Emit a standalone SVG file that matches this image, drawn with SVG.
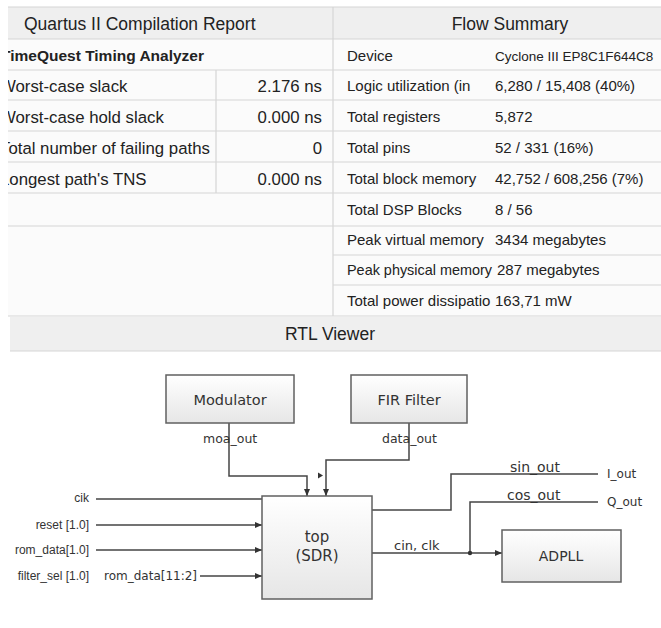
<svg xmlns="http://www.w3.org/2000/svg" width="661" height="628" viewBox="0 0 661 628">
<style>
.bg{fill:#fbfbfb}
.hdr{fill:#efefef}
.grid{stroke:#d6d6d6;stroke-width:1.2;fill:none}
.t{font-family:"Liberation Sans",Arial,sans-serif;font-size:15px;fill:#222}
.tl{font-family:"Liberation Sans",Arial,sans-serif;font-size:16.8px;fill:#222}
.th{font-family:"Liberation Sans",Arial,sans-serif;font-size:17.5px;fill:#222}
.tb{font-family:"Liberation Sans",Arial,sans-serif;font-size:15.5px;font-weight:bold;fill:#222}
.box{fill:url(#g);stroke:#606060;stroke-width:1.5}
.w{stroke:#454545;stroke-width:1.5;fill:none}
.wa{stroke:#454545;stroke-width:1.5;fill:none;marker-end:url(#ah)}
.lbl{font-family:"DejaVu Sans",Verdana,sans-serif;fill:#333}
.inl{font-family:"Liberation Sans",Arial,sans-serif;font-size:12px;fill:#333}
</style>
<defs>
<linearGradient id="g" x1="0" y1="0" x2="0" y2="1">
<stop offset="0" stop-color="#ffffff"/>
<stop offset="1" stop-color="#e6e6e6"/>
</linearGradient>
<marker id="ah" markerWidth="8" markerHeight="6" refX="7" refY="3" orient="auto" markerUnits="userSpaceOnUse">
<path d="M0,0 L7,3 L0,6 Z" fill="#333"/>
</marker>
<clipPath id="lc"><rect x="8" y="0" width="325" height="320"/></clipPath>
<clipPath id="rc"><rect x="333" y="0" width="328" height="320"/></clipPath>
</defs>
<rect x="0" y="0" width="661" height="628" fill="#ffffff"/>
<g id="report-table">
<rect class="bg" x="8" y="7" width="653" height="309"/>
<rect class="hdr" x="8" y="7" width="653" height="32"/>
<g class="grid">
<line x1="8" y1="7" x2="661" y2="7"/>
<line x1="8" y1="39" x2="661" y2="39"/>
<line x1="8" y1="70" x2="661" y2="70"/>
<line x1="8" y1="100" x2="661" y2="100"/>
<line x1="8" y1="131" x2="661" y2="131"/>
<line x1="8" y1="162" x2="661" y2="162"/>
<line x1="8" y1="193" x2="661" y2="193"/>
<line x1="8" y1="226" x2="661" y2="226"/>
<line x1="333" y1="255" x2="661" y2="255"/>
<line x1="333" y1="285" x2="661" y2="285"/>
<line x1="8" y1="316" x2="661" y2="316"/>
<line x1="216" y1="70" x2="216" y2="193"/>
<line x1="333" y1="7" x2="333" y2="316"/>
</g>
<g clip-path="url(#lc)">
<text class="th" x="24" y="30">Quartus II Compilation Report</text>
<text class="tb" x="1" y="61">TimeQuest Timing Analyzer</text>
<text class="tl" x="0" y="92">Worst-case slack</text>
<text class="tl" x="0" y="123">Worst-case hold slack</text>
<text class="tl" x="0" y="154">Total number of failing paths</text>
<text class="tl" x="0" y="185">Longest path's TNS</text>
<g text-anchor="end">
<text class="tl" x="322" y="92">2.176 ns</text>
<text class="tl" x="322" y="123">0.000 ns</text>
<text class="tl" x="322" y="154">0</text>
<text class="tl" x="322" y="185">0.000 ns</text>
</g>
</g>
<g clip-path="url(#rc)">
<text class="th" x="510" y="30" text-anchor="middle">Flow Summary</text>
<text class="t" x="347" y="61">Device</text>
<text class="t" x="495" y="61" style="font-size:13.5px">Cyclone III EP8C1F644C8</text>
<text class="t" x="347" y="91">Logic utilization (in</text>
<text class="t" x="495" y="91">6,280 / 15,408 (40%)</text>
<text class="t" x="347" y="122">Total registers</text>
<text class="t" x="495" y="122">5,872</text>
<text class="t" x="347" y="153">Total pins</text>
<text class="t" x="495" y="153">52 / 331 (16%)</text>
<text class="t" x="347" y="184">Total block memory</text>
<text class="t" x="495" y="184">42,752 / 608,256 (7%)</text>
<text class="t" x="347" y="215">Total DSP Blocks</text>
<text class="t" x="495" y="215">8 / 56</text>
<text class="t" x="347" y="245">Peak virtual memory</text>
<text class="t" x="495" y="245">3434 megabytes</text>
<text class="t" x="347" y="275" textLength="145" lengthAdjust="spacingAndGlyphs">Peak physical memory</text>
<text class="t" x="497" y="275">287 megabytes</text>
<text class="t" x="347" y="306">Total power dissipatio</text>
<text class="t" x="495" y="306">163,71 mW</text>
</g>
</g>
<g id="rtl-header">
<rect class="hdr" x="10" y="317" width="651" height="34"/>
<line class="grid" x1="10" y1="351" x2="661" y2="351"/>
<text class="th" x="330" y="340" text-anchor="middle">RTL Viewer</text>
</g>
<g id="connectors">
<polyline class="wa" points="229,423 229,476 307,476 307,496"/>
<polyline class="wa" points="409,423 409,460 326,460 326,496"/>
<path d="M318,472.5 L323,475.5 L318,478.5 Z" fill="#333"/>
<line class="w" x1="96" y1="499" x2="262" y2="499"/>
<line class="wa" x1="96" y1="525" x2="262" y2="525"/>
<line class="wa" x1="96" y1="550" x2="262" y2="550"/>
<line class="wa" x1="200" y1="576" x2="262" y2="576"/>
<polyline class="w" points="372,510 451,510 451,474 598,474"/>
<line class="wa" x1="372" y1="553" x2="502" y2="553"/>
<polyline class="w" points="470,553 470,502 598,502"/>
<circle cx="470" cy="553" r="2.2" fill="#333"/>
<text class="lbl" x="203" y="443" font-size="12.5">moa_out</text>
<text class="lbl" x="382" y="443" font-size="12.5">data_out</text>
<text class="lbl" x="510" y="472" font-size="14">sin_out</text>
<text class="lbl" x="507" y="500" font-size="14">cos_out</text>
<text class="lbl" x="607" y="478" font-size="12">I_out</text>
<text class="lbl" x="607" y="506" font-size="12">Q_out</text>
<text class="lbl" x="394" y="550" font-size="13">cin, clk</text>
<text class="inl" x="89" y="502" text-anchor="end">cik</text>
<text class="inl" x="89" y="529" text-anchor="end">reset [1.0]</text>
<text class="inl" x="89" y="554" text-anchor="end">rom_data[1.0]</text>
<text class="inl" x="89" y="580" text-anchor="end">filter_sel [1.0]</text>
<text class="lbl" x="104" y="580" font-size="12">rom_data[11:2]</text>
</g>
<g id="modulator">
<rect class="box" x="166" y="375" width="128" height="48"/>
<text class="lbl" x="230" y="405" font-size="14.5" text-anchor="middle">Modulator</text>
</g>
<g id="fir-filter">
<rect class="box" x="351" y="375" width="116" height="48"/>
<text class="lbl" x="409" y="405" font-size="14.5" text-anchor="middle">FIR Filter</text>
</g>
<g id="top-sdr">
<rect class="box" x="262" y="496" width="110" height="103"/>
<text class="lbl" x="317" y="542" font-size="15" text-anchor="middle">top</text>
<text class="lbl" x="317" y="561" font-size="15" text-anchor="middle">(SDR)</text>
</g>
<g id="adpll">
<rect class="box" x="502" y="530" width="119" height="52"/>
<text class="lbl" x="561" y="561" font-size="14" text-anchor="middle">ADPLL</text>
</g>
</svg>
